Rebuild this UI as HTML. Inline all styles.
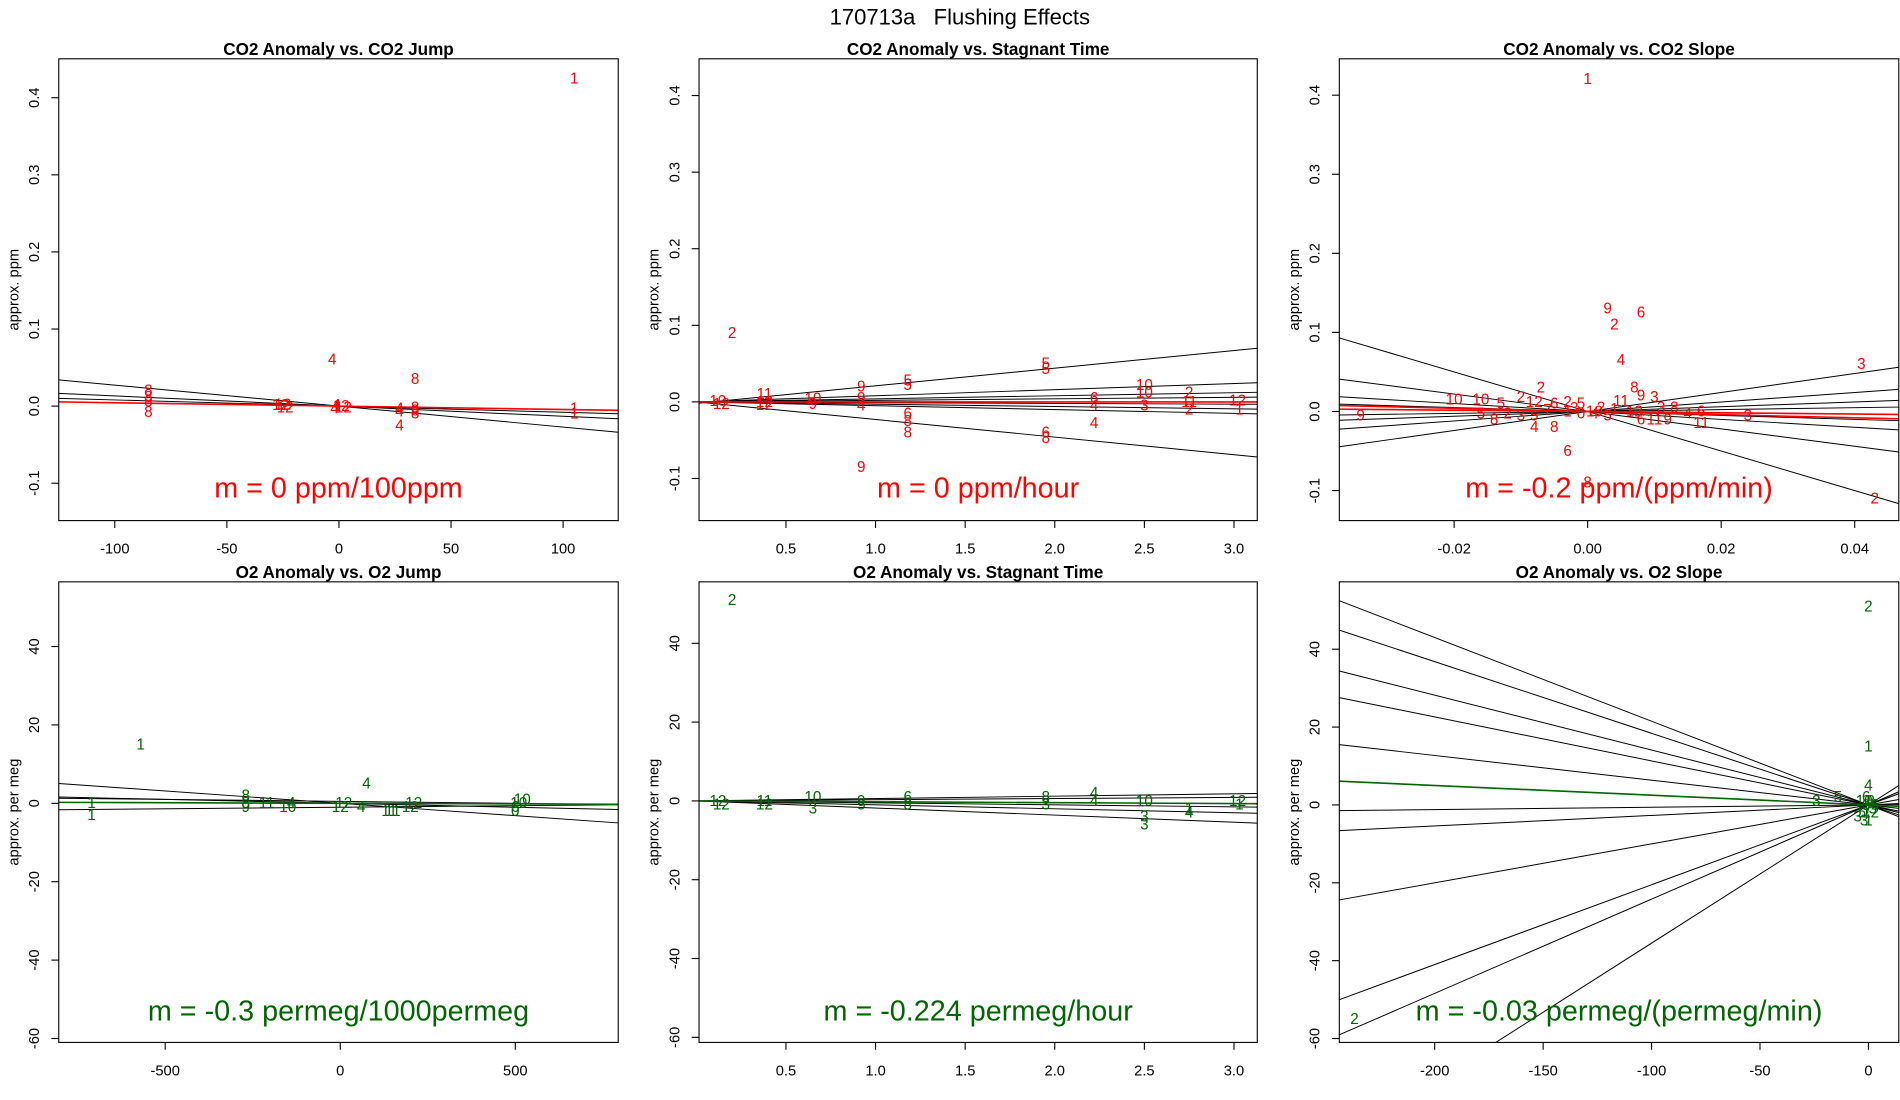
<!DOCTYPE html>
<html><head><meta charset="utf-8"><title>170713a Flushing Effects</title>
<style>
html,body{margin:0;padding:0;background:#fff;}
svg{display:block;font-family:"Liberation Sans",sans-serif;}
</style></head>
<body>
<svg id="fig" width="1900" height="1100" viewBox="0 0 1552 898" preserveAspectRatio="none" xmlns="http://www.w3.org/2000/svg">
<rect x="0" y="0" width="1552" height="898" fill="#fff"/>
<text x="784" y="20" text-anchor="middle" font-size="18">170713a&#160;&#160;&#160;Flushing Effects</text>
</svg>
<script>
// ---- data arrays ----
const p1Points=[[105,0.425,"1"],[-3,0.06,"4"],[34,0.035,"8"],[-85,0.02,"8"],[-85,0.012,"8"],[-85,0.006,"8"],[-85,-0.008,"8"],[-26,0.001,"12"],[-24,-0.002,"12"],[-25,0.002,"12"],[-1,0.001,"4"],[1,0,"12"],[2,-0.002,"12"],[-2,-0.003,"4"],[27,-0.003,"4"],[27,-0.007,"4"],[27,-0.025,"4"],[34,-0.002,"8"],[34,-0.006,"8"],[34,-0.01,"8"],[105,-0.003,"1"],[105,-0.01,"1"]];
const p1Lines=[[0.0,-0.000272,"k"],[0.0,-0.000132,"k"],[0.0,-0.00008,"k"],[0.0,-0.000044,"r"]];
const p2Points=[[0.2,0.09,"2"],[0.92,-0.085,"9"],[0.38,0.01,"11"],[0.38,0.0,"12"],[0.38,-0.004,"12"],[0.12,0.001,"10"],[0.14,-0.003,"12"],[0.65,0.004,"10"],[0.65,-0.003,"9"],[0.92,0.02,"9"],[0.92,0.005,"9"],[0.92,-0.005,"4"],[1.18,0.028,"5"],[1.18,0.022,"5"],[1.18,-0.015,"6"],[1.18,-0.025,"8"],[1.18,-0.04,"8"],[1.95,0.05,"5"],[1.95,0.043,"5"],[1.95,-0.04,"6"],[1.95,-0.047,"8"],[2.22,0.005,"6"],[2.22,-0.005,"4"],[2.22,-0.028,"4"],[2.5,0.022,"10"],[2.5,0.012,"10"],[2.5,-0.005,"3"],[2.75,0.012,"2"],[2.75,0.0,"11"],[2.75,-0.01,"2"],[3.02,0.002,"12"],[3.03,-0.01,"1"]];
const p2Lines=[[-0.002,0.023,"k"],[0.0,0.008,"k"],[0.0,0.004,"k"],[0.0,0.002,"k"],[0.0,-0.001,"k"],[0.0,-0.003,"k"],[0.0,-0.005,"k"],[0.0,-0.023,"k"],[0.0,0.0,"r"]];
const p3Points=[[0.0,0.42,"1"],[0.003,0.13,"9"],[0.008,0.125,"6"],[0.004,0.11,"2"],[0.005,0.065,"4"],[0.041,0.06,"3"],[0.043,-0.11,"2"],[-0.003,-0.05,"6"],[0.0,-0.09,"8"],[-0.034,-0.005,"9"],[0.024,-0.005,"3"],[-0.02,0.015,"10"],[-0.016,0.015,"10"],[-0.013,0.01,"5"],[-0.01,0.018,"2"],[-0.007,0.03,"2"],[-0.008,0.012,"12"],[-0.005,0.01,"6"],[-0.003,0.012,"2"],[-0.001,0.01,"5"],[0.002,0.005,"2"],[0.005,0.013,"11"],[0.007,0.03,"8"],[0.008,0.02,"9"],[0.01,0.018,"3"],[0.011,0.005,"3"],[0.013,0.005,"8"],[0.017,0.0,"6"],[0.017,-0.015,"11"],[-0.016,-0.003,"5"],[-0.014,-0.01,"8"],[-0.012,-0.003,"2"],[-0.01,-0.005,"3"],[-0.008,-0.005,"5"],[-0.008,-0.02,"4"],[-0.005,-0.02,"8"],[-0.003,0.0,"1"],[-0.001,-0.003,"0"],[0.001,-0.003,"4"],[0.003,-0.005,"5"],[0.004,0.003,"1"],[0.007,0.0,"12"],[0.008,-0.01,"6"],[0.01,-0.01,"11"],[0.012,-0.01,"9"],[0.015,-0.003,"4"],[-0.006,0.002,"7"],[-0.002,0.004,"3"],[0.001,0.0,"10"]];
const p3Lines=[[0,-2.5,"k"],[0,1.2,"k"],[0,-1.1,"k"],[0,0.6,"k"],[0,-0.5,"k"],[0,0.3,"k"],[0,-0.25,"k"],[0,0.12,"k"],[0,-0.2,"r"],[0,-0.08,"r"]];
const p4Points=[[-570,15,"1"],[75,5,"4"],[-710,0,"1"],[-710,-3,"1"],[-270,2,"8"],[-270,-1,"9"],[-270,0,"8"],[-210,0,"11"],[-150,-1,"10"],[-140,0,"4"],[0,-1,"12"],[10,0,"12"],[60,-1,"4"],[140,-2,"11"],[150,-2,"11"],[200,-1,"12"],[210,0,"12"],[500,-1,"6"],[510,0,"10"],[520,1,"10"],[500,-2,"0"]];
const p4Lines=[[0,-0.0063,"k"],[0,-0.002,"k"],[0.5,-0.001,"k"],[-1,0.0008,"k"],[0,-0.0003,"g"]];
const p5Points=[[0.2,51,"2"],[0.12,0,"12"],[0.14,-1,"12"],[0.38,0,"11"],[0.38,-1,"12"],[0.65,1,"10"],[0.65,-2,"3"],[0.92,0,"9"],[0.92,-1,"5"],[1.18,1,"6"],[1.18,-1,"8"],[1.95,1,"8"],[1.95,-1,"3"],[2.22,2,"4"],[2.22,0,"4"],[2.5,0,"10"],[2.5,-4,"3"],[2.5,-6,"3"],[2.75,-2,"1"],[2.75,-3,"4"],[3.02,0,"12"],[3.03,-1,"1"]];
const p5Lines=[[0,0.6,"k"],[0,0.3,"k"],[0,-0.5,"k"],[0,-1.0,"k"],[0,-1.8,"k"],[0,-0.224,"g"]];
const p6Points=[[0,51,"2"],[0,15,"1"],[-237,-55,"2"],[-24,1,"3"],[-14,2,"5"],[0,5,"4"],[-1,2,"6"],[-3,-2,"5"],[-5,-3,"3"],[-2,-4,"3"],[0,-4,"1"],[2,-1,"5"],[1,1,"8"],[-1,0,"9"],[0,-1,"7"],[3,0,"6"],[-2,1,"10"],[1,-2,"12"]];
const p6Lines=[[0,-0.215,"k"],[0,-0.184,"k"],[0,-0.141,"k"],[0,-0.113,"k"],[0,-0.0635,"k"],[0,0.006,"k"],[0,0.027,"k"],[0,0.1,"k"],[0,0.205,"k"],[0,0.242,"k"],[0,0.355,"k"],[0,-0.025,"g"]];
const p1XTicks=[-100,-50,0,50,100], p1YTicks=[-0.1,0.0,0.1,0.2,0.3,0.4];
const p2XTicks=[0.5,1.0,1.5,2.0,2.5,3.0], p2YTicks=[-0.1,0.0,0.1,0.2,0.3,0.4];
const p3XTicks=[-0.02,0.00,0.02,0.04], p3YTicks=[-0.1,0.0,0.1,0.2,0.3,0.4];
const p4XTicks=[-500,0,500], p4YTicks=[-60,-40,-20,0,20,40];
const p5XTicks=[0.5,1.0,1.5,2.0,2.5,3.0], p5YTicks=[-60,-40,-20,0,20,40];
const p6XTicks=[-200,-150,-100,-50,0], p6YTicks=[-60,-40,-20,0,20,40];

const NS="http://www.w3.org/2000/svg";
const svg=document.getElementById('fig');
function mk(tag,attrs,parent,txt){const e=document.createElementNS(NS,tag);for(const k in attrs)e.setAttribute(k,attrs[k]);if(txt!==undefined)e.textContent=txt;(parent||svg).appendChild(e);return e;}
const COL={k:"#000",r:"#ff0000",g:"#006400"};
function fmt(v,dec){return v.toFixed(dec);}
function panel(o){
  const g=mk('g',{});
  
  
  const sx=v=>o.L+(v-o.x0)/(o.x1-o.x0)*(o.R-o.L);
  const sy=v=>o.B-(v-o.y0)/(o.y1-o.y0)*(o.B-o.T);
  const cid='clip'+o.name;
  const cp=mk('clipPath',{id:cid},g);mk('rect',{x:o.L,y:o.T,width:o.R-o.L,height:o.B-o.T},cp);
  const t=mk('text',{x:(o.L+o.R)/2,y:o.T-3,'text-anchor':'middle','font-size':14,'font-weight':'bold'},g,o.title);
  
  
  const plot=mk('g',{'clip-path':'url(#'+cid+')'},g);
  o.lines.forEach(l=>{
    const ln=mk('line',{x1:sx(o.x0),y1:sy(l[0]+l[1]*o.x0),x2:sx(o.x1),y2:sy(l[0]+l[1]*o.x1),stroke:COL[l[2]],'stroke-width':l[2]=='k'?0.8:1.3},plot);
    
    
  });
  o.points.forEach(p=>{
    const tx=mk('text',{x:sx(p[0]),y:sy(p[1])+4,'text-anchor':'middle','font-size':12.5,fill:o.color},plot,p[2]);
    
    
  });
  const fr=mk('rect',{x:o.L,y:o.T,width:o.R-o.L,height:o.B-o.T,fill:'none',stroke:'#000','stroke-width':0.9},g);
  
  
  o.xt.forEach(v=>{
    const x=sx(v);
    mk('line',{x1:x,y1:o.B,x2:x,y2:o.B+6,stroke:'#000','stroke-width':0.9},g);
    const tl=mk('text',{x:x,y:o.B+27,'text-anchor':'middle','font-size':12},g,fmt(v,o.xd));
    
    
  });
  o.yt.forEach(v=>{
    const y=sy(v);
    mk('line',{x1:o.L,y1:y,x2:o.L-6,y2:y,stroke:'#000','stroke-width':0.9},g);
    const tl=mk('text',{x:o.L-16,y:y,'text-anchor':'middle','font-size':12,transform:`rotate(-90 ${o.L-16} ${y})`},g,fmt(v,o.yd));
    
    
  });
  const yl=mk('text',{x:o.L-33,y:(o.T+o.B)/2,'text-anchor':'middle','font-size':12,transform:`rotate(-90 ${o.L-33} ${(o.T+o.B)/2})`},g,o.ylab);
  
  
  const m=mk('text',{x:(o.L+o.R)/2,y:o.mY,'text-anchor':'middle','font-size':23.5,fill:o.color},g,o.mtext);
  
  
}
const R1={T:48,B:425},R2={T:475,B:851};
panel({name:'panel-co2-jump',title:'CO2 Anomaly vs. CO2 Jump',L:48,R:505,...R1,x0:-125,x1:124.6,y0:-0.1485,y1:0.4505,points:p1Points,lines:p1Lines,xt:p1XTicks,yt:p1YTicks,xd:0,yd:1,color:'#ff0000',ylab:'approx. ppm',mtext:'m = 0 ppm/100ppm',mY:406});
panel({name:'panel-co2-stagnant',title:'CO2 Anomaly vs. Stagnant Time',L:571,R:1027,...R1,x0:0.015,x1:3.13,y0:-0.155,y1:0.448,points:p2Points,lines:p2Lines,xt:p2XTicks,yt:p2YTicks,xd:1,yd:1,color:'#ff0000',ylab:'approx. ppm',mtext:'m = 0 ppm/hour',mY:406});
panel({name:'panel-co2-slope',title:'CO2 Anomaly vs. CO2 Slope',L:1094,R:1551,...R1,x0:-0.0372,x1:0.0466,y0:-0.138,y1:0.446,points:p3Points,lines:p3Lines,xt:p3XTicks,yt:p3YTicks,xd:2,yd:1,color:'#ff0000',ylab:'approx. ppm',mtext:'m = -0.2 ppm/(ppm/min)',mY:406});
panel({name:'panel-o2-jump',title:'O2 Anomaly vs. O2 Jump',L:48,R:505,...R2,x0:-804,x1:794,y0:-61,y1:56.5,points:p4Points,lines:p4Lines,xt:p4XTicks,yt:p4YTicks,xd:0,yd:0,color:'#006400',ylab:'approx. per meg',mtext:'m = -0.3 permeg/1000permeg',mY:833});
panel({name:'panel-o2-stagnant',title:'O2 Anomaly vs. Stagnant Time',L:571,R:1027,...R2,x0:0.015,x1:3.13,y0:-61.3,y1:55.6,points:p5Points,lines:p5Lines,xt:p5XTicks,yt:p5YTicks,xd:1,yd:0,color:'#006400',ylab:'approx. per meg',mtext:'m = -0.224 permeg/hour',mY:833});
panel({name:'panel-o2-slope',title:'O2 Anomaly vs. O2 Slope',L:1094,R:1551,...R2,x0:-244,x1:14,y0:-61,y1:57.3,points:p6Points,lines:p6Lines,xt:p6XTicks,yt:p6YTicks,xd:0,yd:0,color:'#006400',ylab:'approx. per meg',mtext:'m = -0.03 permeg/(permeg/min)',mY:833});
</script>
</body></html>
